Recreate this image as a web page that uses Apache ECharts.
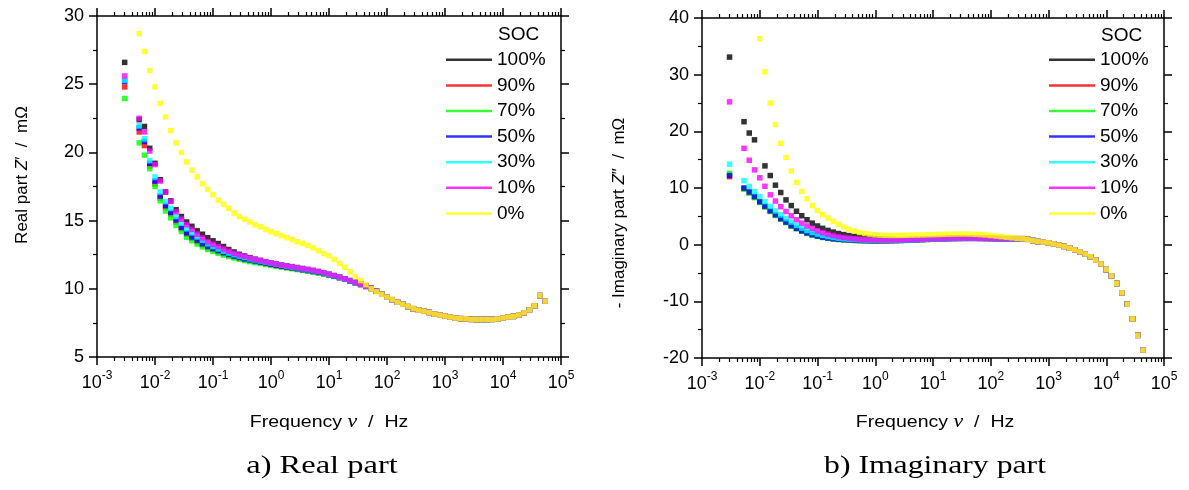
<!DOCTYPE html>
<html>
<head>
<meta charset="utf-8">
<script src="https://cdn.jsdelivr.net/npm/echarts@6.0.0/dist/echarts.min.js"></script>
<style>
html, body { margin: 0; padding: 0; background: #fff; }
#main { width: 1189px; height: 490px; }
</style>
</head>
<body>
<div id="main"></div>
<script>
var socNames = ['100%', '90%', '70%', '50%', '30%', '10%', '0%'];
var socColors = ['#000000', '#ff0000', '#00ff00', '#0000ff', '#00ffff', '#ff00ff', '#ffff00'];

// measurement frequencies, Hz
var freq = [0.003,
    0.00534, 0.00658, 0.00811, 0.01, 0.0123, 0.0152, 0.0187, 0.0231, 0.0285, 0.0351, 0.0433,
    0.0534, 0.0658, 0.0811, 0.1, 0.123, 0.152, 0.187, 0.231, 0.285, 0.351, 0.433,
    0.534, 0.658, 0.811, 1, 1.23, 1.52, 1.87, 2.31, 2.85, 3.51, 4.33,
    5.34, 6.58, 8.11, 10, 12.3, 15.2, 18.7, 23.1, 28.5, 35.1, 43.3,
    53.4, 65.8, 81.1, 100, 123, 152, 187, 231, 285, 351, 433,
    534, 658, 811, 1000, 1230, 1520, 1870, 2310, 2850, 3510, 4330,
    5340, 6580, 8110, 10000, 12300, 15200, 18700, 23100, 28500, 35100, 43300, 53400];

// real part Z' (mOhm), low-frequency points (first 48 frequencies)
var real100 = [26.6, 22.4, 21.9, 20.3, 19.2, 18.0, 17.1, 16.45, 15.8, 15.3, 14.9, 14.58, 14.25, 14.0, 13.75, 13.52, 13.32, 13.1, 12.88, 12.7, 12.53, 12.4, 12.28, 12.17, 12.08, 11.98, 11.9, 11.82, 11.75, 11.68, 11.62, 11.55, 11.48, 11.41, 11.34, 11.26, 11.16, 11.06, 10.96, 10.85, 10.73, 10.6, 10.47, 10.34, 10.2, 10.03, 9.82, 9.6];
var real90 = [24.8, 21.5, 20.5, 19.0, 17.7, 16.65, 15.95, 15.45, 14.9, 14.4, 14.0, 13.7, 13.45, 13.22, 13.02, 12.87, 12.72, 12.58, 12.46, 12.35, 12.25, 12.15, 12.07, 11.99, 11.92, 11.84, 11.77, 11.7, 11.63, 11.57, 11.51, 11.45, 11.38, 11.32, 11.25, 11.18, 11.1, 11.01, 10.92, 10.81, 10.7, 10.57, 10.44, 10.31, 10.17, 10.02, 9.82, 9.6];
var real70 = [23.95, 20.7, 19.8, 18.8, 17.5, 16.45, 15.7, 15.2, 14.65, 14.2, 13.78, 13.52, 13.28, 13.07, 12.88, 12.74, 12.6, 12.47, 12.36, 12.26, 12.16, 12.07, 11.99, 11.92, 11.85, 11.78, 11.71, 11.65, 11.59, 11.53, 11.47, 11.41, 11.35, 11.29, 11.22, 11.15, 11.07, 10.99, 10.9, 10.8, 10.69, 10.56, 10.44, 10.31, 10.17, 10.02, 9.82, 9.6];
var real50 = [25.2, 21.8, 20.8, 19.2, 17.9, 16.8, 16.1, 15.6, 15.05, 14.5, 14.1, 13.8, 13.55, 13.3, 13.1, 12.95, 12.8, 12.65, 12.52, 12.4, 12.3, 12.2, 12.12, 12.04, 11.96, 11.88, 11.8, 11.73, 11.66, 11.6, 11.54, 11.48, 11.41, 11.35, 11.28, 11.21, 11.13, 11.04, 10.94, 10.83, 10.71, 10.58, 10.45, 10.32, 10.18, 10.03, 9.82, 9.6];
var real30 = [25.3, 21.95, 21.0, 19.4, 18.2, 17.1, 16.4, 15.9, 15.3, 14.8, 14.4, 14.1, 13.8, 13.55, 13.3, 13.1, 12.92, 12.76, 12.62, 12.5, 12.4, 12.3, 12.2, 12.12, 12.04, 11.96, 11.88, 11.8, 11.73, 11.66, 11.6, 11.54, 11.47, 11.4, 11.33, 11.26, 11.17, 11.07, 10.97, 10.85, 10.73, 10.6, 10.46, 10.33, 10.19, 10.04, 9.82, 9.6];
var real10 = [25.6, 22.5, 21.5, 20.1, 19.1, 17.9, 17.1, 16.4, 15.65, 15.1, 14.7, 14.35, 14.0, 13.72, 13.45, 13.27, 13.1, 12.92, 12.75, 12.6, 12.48, 12.38, 12.26, 12.16, 12.08, 11.99, 11.9, 11.81, 11.74, 11.68, 11.62, 11.56, 11.49, 11.42, 11.35, 11.28, 11.18, 11.08, 10.98, 10.86, 10.74, 10.61, 10.47, 10.34, 10.2, 10.05, 9.82, 9.6];
var real0 = [null, 28.7, 27.4, 26.0, 24.8, 23.6, 22.6, 21.6, 20.7, 20.0, 19.3, 18.7, 18.2, 17.7, 17.3, 16.9, 16.5, 16.2, 15.9, 15.55, 15.3, 15.1, 14.9, 14.7, 14.55, 14.35, 14.2, 14.05, 13.9, 13.75, 13.6, 13.45, 13.33, 13.17, 13.0, 12.8, 12.58, 12.42, 12.15, 11.87, 11.58, 11.25, 10.9, 10.6, 10.3, 10.0, 9.78, 9.6];
// high-frequency points, all SOC overlap
var realTail = [9.39, 9.2, 9.02, 8.87, 8.69, 8.54, 8.44, 8.36, 8.27, 8.15, 8.07, 8.0, 7.93, 7.85, 7.81, 7.8, 7.76, 7.75, 7.75, 7.75, 7.76, 7.79, 7.86, 7.93, 7.98, 8.08, 8.24, 8.45, 8.75, 9.5, 9.1];

// -Z'' (mOhm), first 54 frequencies
var imag100 = [33.1, 21.7, 19.7, 18.5, null, 13.9, 12.2, 10.5, 9.2, 7.9, 6.9, 5.9, 5.1, 4.4, 3.8, 3.3, 2.88, 2.52, 2.22, 1.97, 1.78, 1.6, 1.48, 1.36, 1.25, 1.15, 1.07, 1.0, 0.95, 0.92, 0.9, 0.9, 0.91, 0.93, 0.96, 0.99, 1.02, 1.05, 1.08, 1.1, 1.12, 1.14, 1.15, 1.15, 1.15, 1.14, 1.13, 1.12, 1.1, 1.08, 1.06, 1.05, 1.05, 1.06];
var imag90 = [12.0, 9.9, 9.2, 8.4, 7.5, 6.7, 5.9, 5.2, 4.55, 3.95, 3.35, 2.85, 2.4, 2.04, 1.74, 1.49, 1.3, 1.15, 1.03, 0.94, 0.87, 0.81, 0.76, 0.72, 0.7, 0.68, 0.67, 0.67, 0.68, 0.7, 0.72, 0.74, 0.77, 0.81, 0.85, 0.89, 0.93, 0.97, 1.0, 1.03, 1.06, 1.08, 1.09, 1.1, 1.1, 1.1, 1.09, 1.08, 1.07, 1.06, 1.06, 1.05, 1.05, 1.05];
var imag70 = [12.6, 9.8, 9.1, 8.3, 7.45, 6.65, 5.85, 5.15, 4.5, 3.9, 3.3, 2.8, 2.37, 2.0, 1.7, 1.46, 1.27, 1.12, 1.0, 0.92, 0.85, 0.79, 0.74, 0.7, 0.68, 0.66, 0.65, 0.65, 0.66, 0.68, 0.7, 0.73, 0.76, 0.8, 0.84, 0.88, 0.92, 0.96, 1.0, 1.03, 1.06, 1.08, 1.09, 1.1, 1.1, 1.1, 1.09, 1.08, 1.07, 1.06, 1.06, 1.05, 1.05, 1.05];
var imag50 = [12.2, 10.0, 9.3, 8.5, 7.6, 6.8, 6.0, 5.3, 4.6, 4.0, 3.35, 2.9, 2.45, 2.08, 1.78, 1.52, 1.33, 1.18, 1.06, 0.97, 0.9, 0.84, 0.79, 0.75, 0.72, 0.7, 0.69, 0.69, 0.7, 0.71, 0.73, 0.76, 0.79, 0.82, 0.86, 0.9, 0.94, 0.98, 1.01, 1.04, 1.07, 1.09, 1.1, 1.11, 1.11, 1.11, 1.1, 1.09, 1.08, 1.07, 1.06, 1.05, 1.05, 1.05];
var imag30 = [14.2, 11.3, 10.3, 9.35, 8.5, 7.6, 6.75, 5.95, 5.25, 4.6, 4.0, 3.4, 2.92, 2.5, 2.15, 1.87, 1.63, 1.45, 1.28, 1.15, 1.05, 0.97, 0.91, 0.86, 0.82, 0.79, 0.77, 0.76, 0.76, 0.77, 0.78, 0.8, 0.83, 0.86, 0.9, 0.93, 0.97, 1.0, 1.03, 1.06, 1.08, 1.1, 1.11, 1.12, 1.12, 1.12, 1.11, 1.1, 1.09, 1.08, 1.07, 1.06, 1.05, 1.05];
var imag10 = [25.2, 17.0, 14.9, 13.2, 11.8, 10.3, 8.8, 7.7, 6.7, 5.85, 5.1, 4.4, 3.8, 3.3, 2.85, 2.45, 2.12, 1.85, 1.62, 1.42, 1.27, 1.14, 1.04, 0.96, 0.9, 0.86, 0.83, 0.82, 0.82, 0.83, 0.85, 0.87, 0.9, 0.93, 0.96, 0.99, 1.02, 1.05, 1.08, 1.1, 1.12, 1.14, 1.15, 1.15, 1.15, 1.14, 1.13, 1.12, 1.1, 1.08, 1.06, 1.05, 1.05, 1.06];
var imag0 = [null, null, null, null, 36.35, 30.5, 25.0, 21.2, 17.9, 15.4, 13.0, 11.0, 9.4, 8.1, 6.9, 6.0, 5.3, 4.7, 4.15, 3.6, 3.1, 2.7, 2.4, 2.15, 1.97, 1.85, 1.75, 1.68, 1.65, 1.63, 1.63, 1.64, 1.66, 1.68, 1.7, 1.72, 1.75, 1.77, 1.8, 1.83, 1.86, 1.88, 1.89, 1.89, 1.87, 1.83, 1.78, 1.72, 1.62, 1.52, 1.42, 1.32, 1.22, 1.12];
var imagTail = [1.05, 0.95, 0.74, 0.55, 0.45, 0.32, 0.13, -0.07, -0.3, -0.6, -0.92, -1.27, -1.65, -2.13, -2.73, -3.4, -4.4, -5.5, -6.85, -8.5, -10.5, -13.1, -16.0, -18.6, -21.6];

var xDecades = [0.001, 0.01, 0.1, 1, 10, 100, 1000, 10000, 100000];
var xMinorSteps = [2, 3, 4, 5, 6, 7, 8, 9];

var FONT = '"Liberation Sans", Arial, sans-serif';
var SERIF = '"Liberation Serif", "Times New Roman", serif';
var axisColor = { color: '#000', width: 1.5 };

var minorTicks = [];
for (var d = 0; d < xDecades.length - 1; d++) {
    for (var m = 0; m < xMinorSteps.length; m++) {
        minorTicks.push(xDecades[d] * xMinorSteps[m]);
    }
}

function points(low, tail) {
    var vals = low.concat(tail), out = [];
    for (var i = 0; i < freq.length; i++) {
        if (vals[i] != null) out.push([freq[i], vals[i]]);
    }
    return out;
}

function logLabel(v) {
    return '{b|10}{s|' + Math.round(Math.log(v) / Math.LN10) + '}';
}

function makeXAxes(g) {
    var common = {
        type: 'log', logBase: 10, gridIndex: g,
        min: xDecades[0], max: xDecades[xDecades.length - 1],
        splitLine: { show: false }
    };
    var line = { show: true, onZero: false, lineStyle: axisColor };
    var noLine = { show: false, onZero: false };
    return [
        Object.assign({}, common, {
            position: 'bottom', axisLine: line,
            axisTick: { customValues: xDecades, length: 8, lineStyle: axisColor },
            axisLabel: {
                customValues: xDecades, formatter: logLabel, margin: 13,
                rich: {
                    b: { fontSize: 18, fontFamily: FONT, color: '#000', lineHeight: 22, verticalAlign: 'bottom' },
                    s: { fontSize: 12, fontFamily: FONT, color: '#000', lineHeight: 12, verticalAlign: 'top' }
                }
            }
        }),
        Object.assign({}, common, {
            position: 'bottom', axisLine: noLine,
            axisTick: { customValues: minorTicks, length: 4, lineStyle: { color: '#000', width: 1.2 } },
            axisLabel: { show: false }
        }),
        Object.assign({}, common, {
            position: 'top', axisLine: line,
            axisTick: { customValues: xDecades, length: 8, lineStyle: axisColor },
            axisLabel: { show: false }
        }),
        Object.assign({}, common, {
            position: 'top', axisLine: noLine,
            axisTick: { customValues: minorTicks, length: 4, lineStyle: { color: '#000', width: 1.2 } },
            axisLabel: { show: false }
        })
    ];
}

function makeYAxes(g, min, max, step) {
    var common = {
        type: 'value', gridIndex: g, min: min, max: max, interval: step,
        splitLine: { show: false },
        axisLine: { show: true, onZero: false, lineStyle: axisColor },
        axisTick: { show: true, length: 8, lineStyle: axisColor },
        minorTick: { show: true, splitNumber: 2, length: 4, lineStyle: { color: '#000', width: 1.2 } }
    };
    return [
        Object.assign({}, common, {
            position: 'left',
            axisLabel: { fontSize: 18, fontFamily: FONT, color: '#000', margin: 13 }
        }),
        Object.assign({}, common, { position: 'right', axisLabel: { show: false } })
    ];
}

var realLow = [real100, real90, real70, real50, real30, real10, real0];
var imagLow = [imag100, imag90, imag70, imag50, imag30, imag10, imag0];

var series = [];
socNames.forEach(function (name, k) {
    series.push({
        name: name, type: 'scatter', xAxisIndex: 0, yAxisIndex: 0,
        symbol: 'rect', symbolSize: 5.5, itemStyle: { color: socColors[k] },
        data: points(realLow[k], realTail)
    });
    series.push({
        name: name, type: 'scatter', xAxisIndex: 4, yAxisIndex: 2,
        symbol: 'rect', symbolSize: 5.5, itemStyle: { color: socColors[k] },
        data: points(imagLow[k], imagTail)
    });
});

function legendAt(left) {
    return {
        left: left, top: 47, orient: 'vertical', padding: 0, itemGap: 0,
        itemWidth: 46, itemHeight: 2.5, icon: 'rect', selectedMode: false,
        textStyle: { fontSize: 19, fontFamily: FONT, color: '#000', lineHeight: 25.6 },
        data: socNames
    };
}

function label(x, y, text, opts, extra) {
    return Object.assign({
        type: 'text', x: x, y: y, silent: true,
        style: Object.assign({
            text: text, fill: '#000', fontSize: 17, fontFamily: FONT,
            align: 'center', verticalAlign: 'middle'
        }, opts || {})
    }, extra || {});
}

var italicZ = { i: { fontStyle: 'italic', fontSize: 17, fontFamily: FONT } };
var italicNu = { v: { fontStyle: 'italic', fontSize: 19, fontFamily: SERIF } };

var chart = echarts.init(document.getElementById('main'));
chart.setOption({
    animation: false,
    backgroundColor: '#fff',
    grid: [
        { left: 97, top: 16, width: 464, height: 341 },
        { left: 702, top: 18, width: 462, height: 340 }
    ],
    xAxis: makeXAxes(0).concat(makeXAxes(1)),
    yAxis: makeYAxes(0, 5, 30, 5).concat(makeYAxes(1, -20, 40, 10)),
    legend: [legendAt(446), legendAt(1049)],
    graphic: [
        label(498, 35, 'SOC', { fontSize: 19, align: 'left' }),
        label(1101, 36, 'SOC', { fontSize: 19, align: 'left' }),
        label(22, 175, 'Real part {i|Z}′  /  mΩ', { rich: italicZ }, { rotation: Math.PI / 2 }),
        label(619, 213, '- Imaginary part {i|Z}″  /  mΩ', { rich: italicZ }, { rotation: Math.PI / 2 }),
        label(329, 422, 'Frequency {v|ν}  /  Hz', { rich: italicNu }, { scaleX: 1.15 }),
        label(935, 422, 'Frequency {v|ν}  /  Hz', { rich: italicNu }, { scaleX: 1.15 }),
        label(322, 466, 'a) Real part', { fontSize: 26, fontFamily: SERIF }, { scaleX: 1.25 }),
        label(935, 466, 'b) Imaginary part', { fontSize: 26, fontFamily: SERIF }, { scaleX: 1.22 })
    ],
    series: series
});
</script>
</body>
</html>
